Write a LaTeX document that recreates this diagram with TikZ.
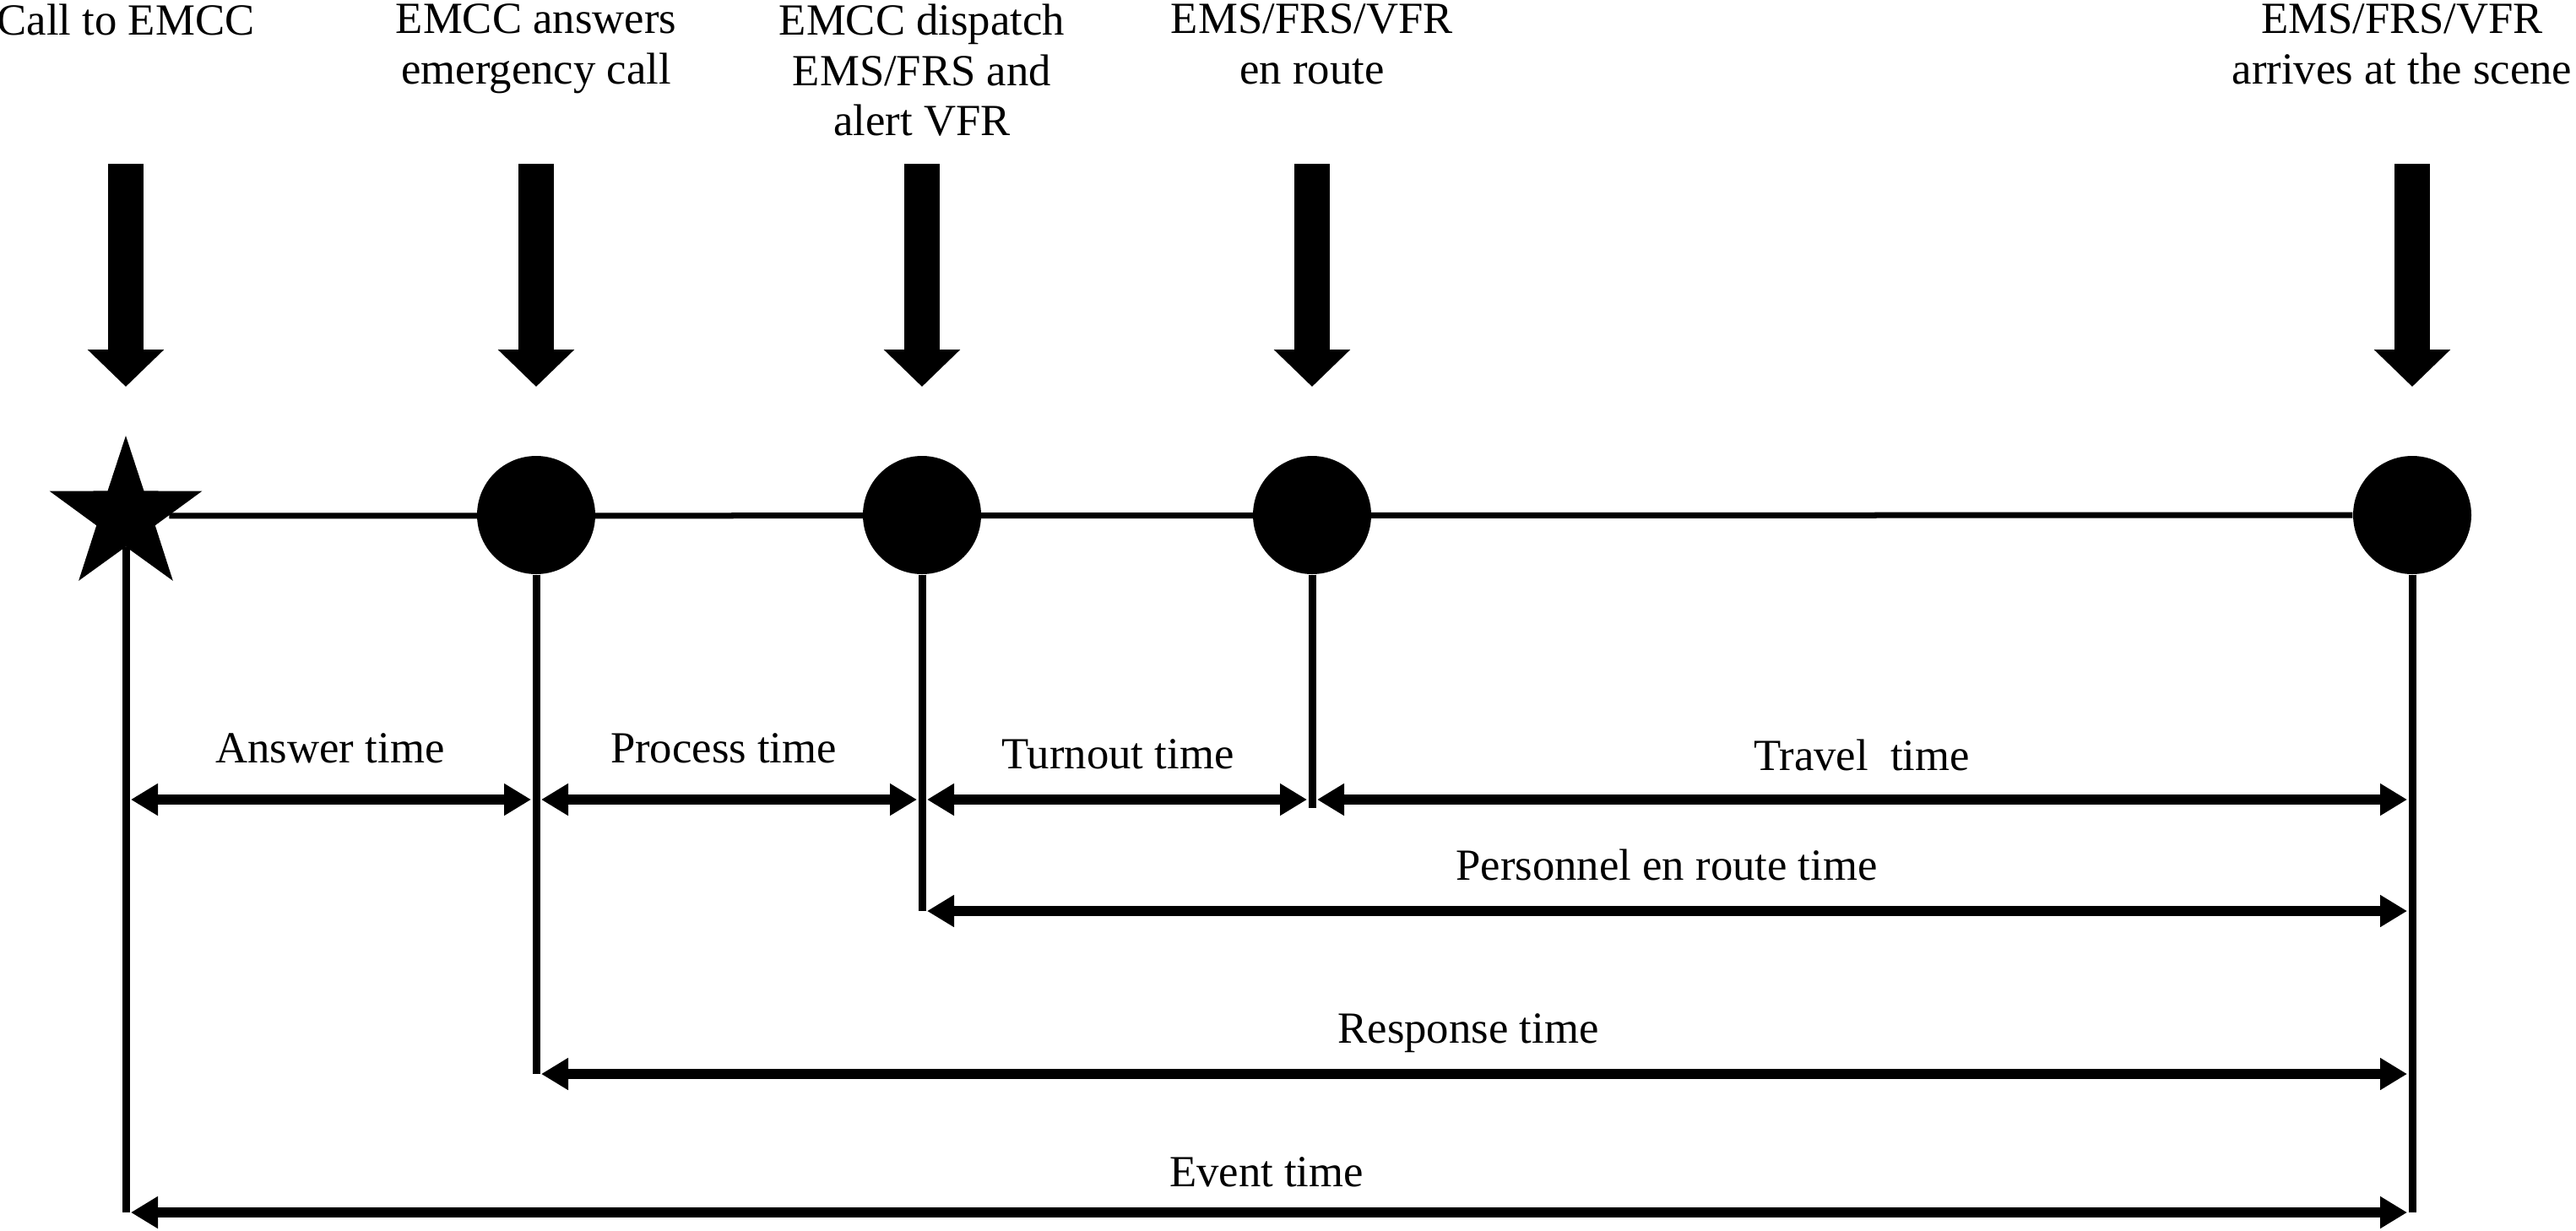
\documentclass[tikz,border=0pt]{standalone}
\usepackage{fontspec}
\setmainfont{Liberation Serif}
\usetikzlibrary{positioning,shapes.geometric,arrows.meta}

\begin{document}
\begin{tikzpicture}[x=1cm,y=1cm,
    eventdot/.style={circle, fill=black, inner sep=0pt, minimum size=1.40cm},
    eventstar/.style={star, star points=5, star point ratio=2.6, fill=black, inner sep=0pt, minimum size=1.90cm},
    eventlabel/.style={anchor=north, align=center, inner sep=0pt, font=\fontsize{15}{17}\selectfont},
    spanlabel/.style={anchor=base, inner sep=0pt, font=\fontsize{15}{17}\selectfont},
    bigarrow/.style={line width=0.42cm, -{Triangle[length=0.44cm, width=0.88cm]}},
    spanarrow/.style={line width=0.12cm, {Triangle[length=0.32cm, width=0.36cm]}-{Triangle[length=0.32cm, width=0.36cm]}, shorten <=0.06cm, shorten >=0.06cm},
    dropline/.style={line width=0.09cm},
    timeline/.style={line width=0.07cm}]

\useasboundingbox (0,0) rectangle (30.51,-14.57);

% Event points on the time line
\node[eventstar] (n0) at (1.49,-6.11) {};
\foreach \nm/\x in {n1/6.35, n2/10.92, n3/15.54, n4/28.57}
    \node[eventdot] (\nm) at (\x,-6.10) {};

% Time line through the events
\draw[timeline] (n0) -- (n4);

% Event labels at the top
\node[eventlabel] (t0) at (n0 |- 0,-0.04) {Call to EMCC};
\node[eventlabel] (t1) at (n1 |- 0,-0.04) {EMCC answers\\emergency call};
\node[eventlabel] (t2) at (n2 |- 0,-0.04) {EMCC dispatch\\EMS/FRS and\\alert VFR};
\node[eventlabel] (t3) at (n3 |- 0,-0.04) {EMS/FRS/VFR\\en route};
\node[eventlabel] (t4) at (28.45,-0.04) {EMS/FRS/VFR\\arrives at the scene};

% Big arrows pointing down to the events
\coordinate (atop) at (0,-1.94);
\coordinate (atip) at (0,-4.58);
\foreach \nm in {n0,n1,n2,n3,n4}
    \draw[bigarrow] (\nm |- atop) -- (\nm |- atip);

% Rows of the interval arrows
\coordinate (rowA) at (0,-9.47);
\coordinate (rowP) at (0,-10.79);
\coordinate (rowR) at (0,-12.72);
\coordinate (rowE) at (0,-14.36);

% Lines dropped from the events
\draw[dropline] (n0) -- (n0 |- rowE);
\draw[dropline] (n1) -- (n1 |- rowR);
\draw[dropline] (n2) -- (n2 |- rowP);
\draw[dropline] (n3) -- ([yshift=-0.10cm]n3 |- rowA);
\draw[dropline] (n4) -- (n4 |- rowE);

% Interval arrows
\draw[spanarrow] (n0 |- rowA) -- (n1 |- rowA);
\draw[spanarrow] (n1 |- rowA) -- (n2 |- rowA);
\draw[spanarrow] (n2 |- rowA) -- (n3 |- rowA);
\draw[spanarrow] (n3 |- rowA) -- (n4 |- rowA);
\draw[spanarrow] (n2 |- rowP) -- (n4 |- rowP);
\draw[spanarrow] (n1 |- rowR) -- (n4 |- rowR);
\draw[spanarrow] (n0 |- rowE) -- (n4 |- rowE);

% Interval labels
\node[spanlabel] (sAnswer) at (3.91,-9.03) {Answer time};
\node[spanlabel] (sProcess) at (8.57,-9.03) {Process time};
\node[spanlabel] (sTurnout) at (13.24,-9.10) {Turnout time};
\node[spanlabel] (sTravel) at (22.05,-9.12) {Travel\ \ time};
\node[spanlabel] (sPersonnel) at (19.74,-10.42) {Personnel en route time};
\node[spanlabel] (sResponse) at (17.39,-12.35) {Response time};
\node[spanlabel] (sEvent) at (15.00,-14.05) {Event time};

\end{tikzpicture}
\end{document}
